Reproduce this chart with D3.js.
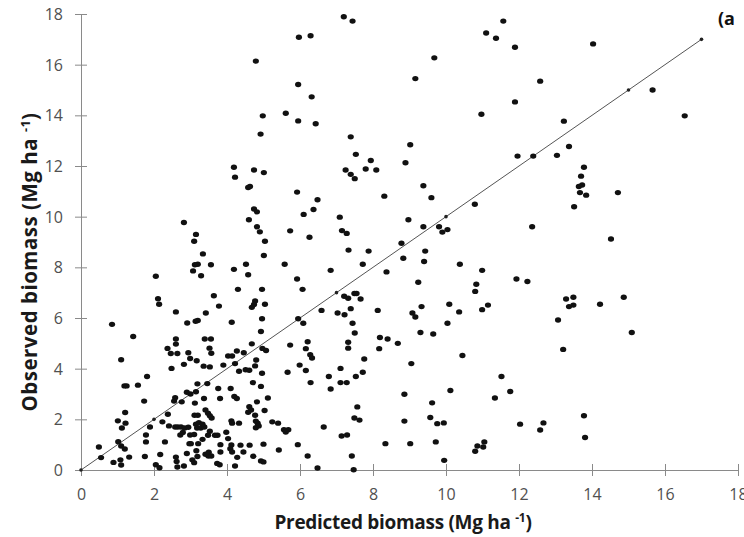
<!DOCTYPE html>
<html>
<head>
<meta charset="utf-8">
<script src="https://cdn.jsdelivr.net/npm/d3@7"></script>
<style>
  html, body { margin: 0; padding: 0; background: #fff; }
  svg { display: block; }
</style>
</head>
<body>
<script>
// Predicted (x) and observed (y) biomass, Mg ha-1
const predicted = [
5.97,4.79,5.95,4.98,5.61,5.95,4.92,
7.2,7.44,6.29,9.68,9.16,6.32,6.43,7.39,7.53,7.94,8.89,9.02,11.57,11.1,11.37,11.89,10.97,11.89,11.96,
14.03,12.58,15.66,16.54,13.23,13.37,12.39,13.04,
4.19,4.74,5.01,4.22,4.58,4.63,5.92,4.74,4.82,2.82,4.6,4.82,4.9,5.73,3.15,3.1,5.04,3.34,5.01,3.12,3.2,3.56,3.07,3.29,4.19,4.52,4.58,5.58,2.05,5.92,4.3,4.96,2.11,2.14,3.64,3.78,4.77,4.74,4.68,5.04,2.6,3.42,4.96,5.95,
7.25,7.39,7.5,7.8,8.09,9.38,9.6,8.31,6.48,6.37,6.1,7.09,10.79,8.97,9.38,9.81,10.04,9.9,7.15,7.28,6.26,8.78,7.33,7.88,9.43,8.83,9.4,7.72,10.38,6.84,8.37,10.99,11.93,9.24,10.83,10.8,6.07,7.21,7.32,7.49,7.55,7.66,7.39,6.59,7.03,7.22,8.13,9.08,9.16,9.33,10.09,10.36,10.99,11.15,
13.78,13.7,13.64,13.73,13.67,13.84,14.71,13.51,12.36,14.52,12.23,13.29,13.49,13.37,13.49,14.87,14.22,13.07,
0.85,1.43,2.91,3.14,3.2,4.13,4.93,2.6,2.6,3.39,3.56,2.37,2.46,2.64,2.94,2.99,3.52,3.57,3.17,1.1,2.48,2.82,3.36,3.53,4.03,4.14,4.27,4.46,4.68,4.97,5.07,5.73,4.8,3.9,4.22,4.77,4.51,4.61,4.33,4.96,5.66,
1.81,1.19,1.25,1.56,3.19,3.46,3.76,4.1,4.71,4.93,1.73,2.9,3.0,2.58,2.55,2.76,3.15,3.37,3.81,4.2,4.27,5.12,4.82,4.61,4.66,4.58,4.77,5.03,3.12,3.41,3.48,3.53,3.58,3.11,3.2,1.21,1.01,1.22,1.12,2.38,2.23,1.89,
2.41,2.58,2.65,2.74,2.84,2.94,3.15,3.23,3.33,3.18,3.28,3.38,4.12,4.14,4.33,4.79,4.84,4.87,4.79,5.24,5.4,5.56,5.68,5.61,3.53,3.48,3.67,3.74,2.72,2.79,2.99,3.1,1.78,1.78,2.3,2.97,3.01,3.21,3.33,3.98,4.03,3.82,4.12,4.09,4.37,4.62,5.0,5.42,
0.49,0.55,1.02,1.1,1.2,0.89,1.08,1.1,1.32,1.75,2.17,2.05,2.15,2.6,2.62,2.64,2.82,2.9,3.05,3.1,3.19,3.16,3.41,3.49,3.57,3.5,3.82,3.73,3.8,4.14,4.22,4.28,4.45,4.72,4.93,5.0,
6.09,7.44,7.5,10.04,9.3,9.65,6.21,6.16,6.28,6.33,7.32,7.32,8.19,8.4,8.17,8.68,7.76,5.99,6.16,7.11,7.72,7.53,6.79,6.29,7.11,7.28,6.84,9.05,10.45,11.52,11.76,11.34,10.12,8.86,9.62,7.57,7.49,7.63,9.57,9.76,9.94,8.86,6.65,7.14,7.29,5.94,8.34,9.02,9.72,6.21,7.42,6.48,7.47,9.95,11.05,10.86,11.02,10.8,12.03,
15.09,13.21,13.78,12.67,12.58,13.81
];
const observed = [
17.08,16.14,15.22,13.98,14.08,13.78,13.26,
17.89,17.72,17.14,16.27,15.45,14.73,13.67,13.15,12.46,12.22,12.13,12.84,17.72,17.25,17.04,16.69,14.04,14.53,12.39,
16.82,15.35,15.0,13.98,13.77,12.77,12.39,12.42,
11.95,11.84,11.74,11.56,11.15,11.19,10.97,10.3,10.19,9.77,9.88,9.6,9.4,9.44,9.3,9.03,9.03,8.53,8.47,8.1,8.12,8.1,7.86,7.67,7.92,8.12,7.71,8.12,7.65,7.54,7.13,7.13,6.76,6.54,6.88,6.47,6.67,6.53,6.42,6.54,6.24,6.2,5.97,5.97,
11.84,11.67,11.5,11.88,11.84,11.22,10.75,10.81,10.67,10.28,10.09,9.98,10.49,9.88,9.6,9.6,9.49,9.39,9.45,9.34,9.19,8.95,8.68,8.64,8.64,8.36,8.23,8.12,8.12,7.88,7.82,7.88,7.54,7.41,7.33,7.05,7.13,6.86,6.78,6.97,6.97,6.75,6.37,6.3,6.2,6.13,6.3,6.2,6.04,6.45,6.54,6.24,6.33,6.51,
11.95,11.6,11.19,11.25,10.95,10.85,10.95,10.39,9.6,9.12,7.44,6.75,6.82,6.45,6.51,6.82,6.54,5.92,
5.75,5.27,5.8,5.87,5.9,5.83,5.47,5.17,4.97,5.17,5.17,4.8,4.6,4.6,4.63,4.4,4.81,4.61,4.31,4.35,4.01,4.17,4.1,4.07,4.5,4.5,4.7,4.63,4.98,4.8,4.72,4.93,4.34,4.14,4.2,4.11,3.96,3.94,3.9,3.82,3.86,
3.69,3.32,3.32,3.35,3.4,3.41,3.22,3.22,3.45,3.3,2.72,3.07,3.0,2.85,2.72,2.69,3.09,2.82,2.82,2.9,2.82,2.84,2.69,2.5,2.37,2.28,2.16,2.35,2.64,2.37,2.24,2.14,2.05,2.16,2.16,2.27,1.94,1.85,1.66,2.2,1.9,1.7,
1.74,1.7,1.7,1.7,1.66,1.69,1.81,1.87,1.81,1.66,1.66,1.7,1.94,1.85,1.85,1.93,1.85,1.74,1.67,1.9,1.85,1.59,1.59,1.5,1.53,1.37,1.37,1.37,1.38,1.48,1.38,1.4,1.38,1.11,1.11,1.04,1.04,1.04,1.21,1.49,1.24,1.0,0.99,0.84,0.98,0.98,1.02,0.79,
0.91,0.49,1.12,0.95,0.83,0.3,0.4,0.2,0.51,0.53,0.61,0.21,0.09,0.51,0.34,0.12,0.16,0.65,0.4,0.29,0.53,0.76,0.62,0.55,0.55,0.7,0.71,0.26,0.21,0.71,0.16,0.5,0.71,0.54,0.36,0.32,
5.79,5.79,5.41,5.79,5.43,5.37,5.06,4.79,4.55,4.42,5.04,4.81,5.23,5.17,4.79,5.0,4.38,4.14,3.93,4.01,3.86,3.69,3.69,3.45,3.45,3.45,3.2,4.2,4.52,3.69,3.1,2.84,3.14,2.99,2.65,2.49,2.05,1.97,2.07,1.83,1.86,1.93,1.7,1.34,1.38,1.0,1.04,1.04,1.11,0.55,0.55,0.08,0.01,0.38,1.11,0.95,0.91,0.74,1.81,
5.43,4.76,2.14,1.86,1.58,1.28
];
// 1:1 reference line points
const oneToOne = [0, 2, 7, 10, 15, 17];
const xTicks = [0, 2, 4, 6, 8, 10, 12, 14, 16, 18];
const yTicks = [0, 2, 4, 6, 8, 10, 12, 14, 16, 18];

const W = 744, H = 537;
const svg = d3.select("body").append("svg").attr("width", W).attr("height", H)
  .style("font-family", "'Open Sans', 'Liberation Sans', sans-serif");
svg.append("rect").attr("width", W).attr("height", H).attr("fill", "#fff");

const x = d3.scaleLinear().domain([0, 18]).range([81, 738]);
const y = d3.scaleLinear().domain([0, 18]).range([470, 14]);
const axisColor = "#8a8a8a";
const tickColor = "#505050";

// X axis (cross ticks)
const gx = svg.append("g").attr("transform", `translate(0,${y(0)})`)
  .call(d3.axisBottom(x).tickValues(xTicks).tickSize(0).tickPadding(0).tickFormat(d3.format("d")));
gx.select(".domain").attr("stroke", axisColor);
gx.selectAll(".tick line").remove();
gx.selectAll(".tick").append("line").attr("y1", -6).attr("y2", 6).attr("stroke", axisColor);
gx.selectAll(".tick text").attr("y", 19).attr("dy", "0.71em")
  .attr("font-size", "16px").attr("fill", tickColor).style("font-family", "'Open Sans', sans-serif");

// Y axis (cross ticks)
const gy = svg.append("g").attr("transform", `translate(${x(0)},0)`)
  .call(d3.axisLeft(y).tickValues(yTicks).tickSize(0).tickPadding(0).tickFormat(d3.format("d")));
gy.select(".domain").attr("stroke", axisColor);
gy.selectAll(".tick line").remove();
gy.selectAll(".tick").append("line").attr("x1", -6).attr("x2", 6).attr("stroke", axisColor);
gy.selectAll(".tick text").attr("x", -18).attr("dy", "0.34em")
  .attr("font-size", "16px").attr("fill", tickColor).style("font-family", "'Open Sans', sans-serif");

// 1:1 line
svg.append("path").datum(oneToOne)
  .attr("d", d3.line().x(d => x(d)).y(d => y(d)))
  .attr("fill", "none").attr("stroke", "#555").attr("stroke-width", 1);
svg.append("g").selectAll("circle").data(oneToOne).join("circle")
  .attr("cx", d => x(d)).attr("cy", d => y(d)).attr("r", 1.8).attr("fill", "#222");

// Scatter points
const pts = predicted.map((p, i) => ({ p, o: observed[i] }));
svg.append("g").selectAll("ellipse").data(pts).join("ellipse")
  .attr("cx", d => x(d.p)).attr("cy", d => y(d.o))
  .attr("rx", 3.1).attr("ry", 2.7).attr("fill", "#111");

// Axis titles
const xt = svg.append("text").attr("x", 403).attr("y", 529).attr("text-anchor", "middle")
  .attr("font-size", "19px").attr("font-weight", "bold").attr("fill", "#1a1a1a")
  .attr("letter-spacing", "-0.3px");
xt.append("tspan").text("Predicted biomass (Mg ha ");
xt.append("tspan").attr("font-size", "12px").attr("dy", -7).text("-1");
xt.append("tspan").attr("dy", 7).text(")");

const yt = svg.append("text").attr("transform", "translate(37,262) rotate(-90)")
  .attr("text-anchor", "middle").attr("font-size", "20.5px").attr("font-weight", "bold").attr("fill", "#1a1a1a")
  .attr("letter-spacing", "0.5px");
yt.append("tspan").text("Observed biomass  (Mg ha ");
yt.append("tspan").attr("font-size", "12.5px").attr("dy", -7).text("-1");
yt.append("tspan").attr("dy", 7).text(")");

svg.append("text").attr("x", 718).attr("y", 25).attr("font-size", "18px")
  .attr("font-weight", "bold").attr("fill", "#111").text("(a");
</script>
</body>
</html>
